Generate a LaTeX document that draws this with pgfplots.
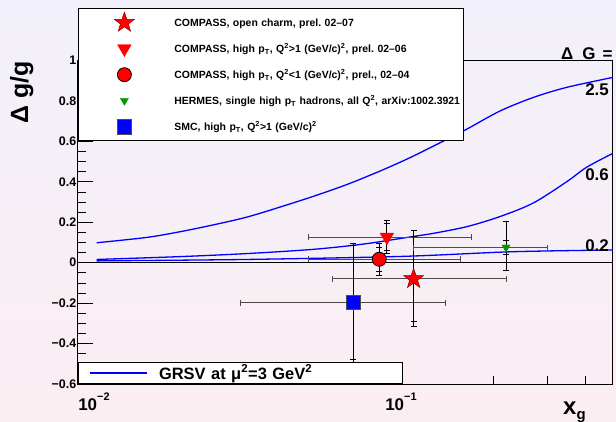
\documentclass[border=0pt]{standalone}
\usepackage{pgfplots}
\pgfplotsset{compat=1.18}
\usepackage{fontspec}
\setmainfont{Liberation Sans}
\usetikzlibrary{plotmarks}
\frenchspacing
\definecolor{bgtop}{RGB}{242,240,250}
\definecolor{bgbot}{RGB}{251,238,243}
\definecolor{rootgreen}{RGB}{0,155,0}
\pgfdeclareplotmark{fstar}{%
  \pgfpathmoveto{\pgfpointpolar{90}{\pgfplotmarksize}}%
  \pgfpathlineto{\pgfpointpolar{126}{0.4\pgfplotmarksize}}%
  \pgfpathlineto{\pgfpointpolar{162}{\pgfplotmarksize}}%
  \pgfpathlineto{\pgfpointpolar{198}{0.4\pgfplotmarksize}}%
  \pgfpathlineto{\pgfpointpolar{234}{\pgfplotmarksize}}%
  \pgfpathlineto{\pgfpointpolar{270}{0.4\pgfplotmarksize}}%
  \pgfpathlineto{\pgfpointpolar{306}{\pgfplotmarksize}}%
  \pgfpathlineto{\pgfpointpolar{342}{0.4\pgfplotmarksize}}%
  \pgfpathlineto{\pgfpointpolar{18}{\pgfplotmarksize}}%
  \pgfpathlineto{\pgfpointpolar{54}{0.4\pgfplotmarksize}}%
  \pgfpathclose
  \pgfusepathqfillstroke
}
\pgfplotsset{
  hbar/.style={forget plot, only marks, mark=none,
    error bars/.cd, x dir=both, x explicit, error mark=none,
    error bar style={black!70, line width=0.9bp}},
  vbar/.style={forget plot, only marks, mark=none,
    error bars/.cd, y dir=both, y explicit, error mark=none,
    error bar style={black, line width=0.9bp}},
}
\begin{document}
\begin{tikzpicture}[x=1bp,y=1bp]
\useasboundingbox (0,0) rectangle (616,421);
\shade[top color=bgtop, bottom color=bgbot] (0,0) rectangle (616,421);
\begin{axis}[
  at={(78bp,37bp)}, anchor=south west,
  scale only axis, width=534.5bp, height=323.5bp,
  xmode=log, xmin=0.00887, xmax=0.489, ymin=-0.6, ymax=1.0,
  axis line style={line width=1bp},
  tick align=inside, tick pos=left,
  major tick length=15bp, minor tick length=8bp,
  tick style={black, line width=0.8bp},
  xtick={0.01,0.1},
  xticklabels={{10\raisebox{10bp}{\fontsize{11}{11}\selectfont −2}},{10\raisebox{10bp}{\fontsize{11}{11}\selectfont −1}}},
  minor xtick={0.02,0.03,0.04,0.05,0.06,0.07,0.08,0.09,0.2,0.3,0.4},
  ytick={-0.6,-0.4,-0.2,0,0.2,0.4,0.6,0.8,1},
  yticklabels={−0.6,−0.4,−0.2,0,0.2,0.4,0.6,0.8,1},
  minor y tick num=3,
  xticklabel style={anchor=base, yshift=-26bp, inner sep=0pt, font=\fontsize{17}{17}\selectfont\bfseries},
  yticklabel style={anchor=east, inner sep=0pt, xshift=-1.5bp, font=\fontsize{12.5}{14}\selectfont\bfseries},
  legend style={at={(0,1.1614)}, anchor=north west, draw=black, line width=0.8bp, fill=white,
    inner xsep=0pt, inner ysep=10bp, row sep=18bp, column sep=4bp,
    nodes={inner sep=0pt, text height=8bp, text depth=0pt, text width=289bp,
      font=\fontsize{10.5}{12}\selectfont\bfseries}},
  legend cell align=left,
  legend image code/.code={\path[draw=none, fill=none] (0bp,-4bp) rectangle (92bp,4bp);
    \draw[#1, overlay, mark repeat=2, mark phase=2] plot coordinates {(0bp,0bp) (46bp,0bp) (92bp,0bp)};},
]
% zero line
\addplot[black, line width=1.2bp, forget plot] coordinates {(0.00887,0) (0.489,0)};
% GRSV curves, Delta G = 2.5, 0.6, 0.2
\addplot[blue, line width=1.3bp, smooth, forget plot] coordinates {
(0.0102,0.0985) (0.01486,0.125) (0.01905,0.153) (0.02448,0.187) (0.03141,0.225)
(0.04036,0.275) (0.05179,0.328) (0.06652,0.386) (0.08544,0.453) (0.1069,0.519)
(0.1374,0.601) (0.1637,0.66) (0.2101,0.750) (0.2697,0.817) (0.3465,0.867) (0.489,0.916)};
\addplot[blue, line width=1.3bp, smooth, forget plot] coordinates {
(0.0102,0.016) (0.01905,0.030) (0.03141,0.045) (0.05179,0.066) (0.0754,0.092)
(0.1069,0.127) (0.1273,0.145) (0.1637,0.178) (0.2101,0.228) (0.2697,0.295)
(0.3465,0.400) (0.4027,0.472) (0.489,0.540)};
\addplot[blue, line width=1.3bp, smooth, forget plot] coordinates {
(0.0102,0.009) (0.0314,0.016) (0.1,0.031) (0.21,0.052) (0.3,0.058) (0.489,0.063)};
% horizontal error bars
\addplot[hbar] coordinates {(0.11,-0.08) += (0.11,0) -= (0.05,0)};
\addplot[hbar] coordinates {(0.09,0.127) += (0.08,0) -= (0.04,0)};
\addplot[hbar] coordinates {(0.085,0.017) += (0.071,0) -= (0.035,0)};
\addplot[hbar] coordinates {(0.22,0.074) += (0.08,0) -= (0.11,0)};
\addplot[hbar] coordinates {(0.07,-0.197) += (0.07,0) -= (0.04,0)};
\addplot[forget plot, only marks, mark=|, mark size=3bp, mark options={black!70, line width=0.9bp}] coordinates {
(0.06,-0.08) (0.22,-0.08) (0.05,0.127) (0.17,0.127) (0.05,0.017) (0.156,0.017)
(0.11,0.074) (0.30,0.074) (0.03,-0.197) (0.14,-0.197)};
% vertical error bars: total and statistical
\addplot[vbar] coordinates {(0.11,-0.08) += (0,0.237) -= (0,0.237)};
\addplot[vbar] coordinates {(0.09,0.127) += (0,0.082) -= (0,0.082)};
\addplot[vbar] coordinates {(0.085,0.017) += (0,0.079) -= (0,0.079)};
\addplot[vbar] coordinates {(0.22,0.074) += (0,0.13) -= (0,0.111)};
\addplot[vbar] coordinates {(0.07,-0.197) += (0,0.294) -= (0,0.294)};
\addplot[forget plot, only marks, mark=-, mark size=3bp, mark options={black, line width=0.9bp}] coordinates {
(0.11,0.157) (0.11,-0.317) (0.11,0.13) (0.11,-0.29)
(0.09,0.209) (0.09,0.045) (0.09,0.192) (0.09,0.062)
(0.085,0.096) (0.085,-0.062) (0.085,0.077) (0.085,-0.043)
(0.22,0.204) (0.22,-0.037) (0.22,0.108) (0.22,0.040)
(0.07,0.097) (0.07,-0.491) (0.07,0.083) (0.07,-0.477)};
% markers
\addplot[only marks, mark=fstar, mark size=10.5bp, mark options={fill=red, draw=red!55!black, line width=0.5bp}] coordinates {(0.11,-0.08)};
\addlegendentry{COMPASS, open charm, prel. 02–07}
\addplot[only marks, mark=triangle*, mark size=8bp, mark options={rotate=180, fill=red, draw=red, line width=0.2bp}] coordinates {(0.09,0.127)};
\addlegendentry{COMPASS, high p\textsubscript{T}, Q\textsuperscript{2}>1 (GeV/c)\textsuperscript{2}, prel. 02–06}
\addplot[only marks, mark=*, mark size=7bp, mark options={fill=red, draw=black, line width=0.8bp}] coordinates {(0.085,0.017)};
\addlegendentry{COMPASS, high p\textsubscript{T}, Q\textsuperscript{2}<1 (GeV/c)\textsuperscript{2}, prel., 02–04}
\addplot[only marks, mark=triangle*, mark size=4.8bp, mark options={rotate=180, fill=rootgreen, draw=rootgreen, line width=0.2bp}] coordinates {(0.22,0.076)};
\addlegendentry{HERMES, single high p\textsubscript{T} hadrons, all Q\textsuperscript{2}, arXiv:1002.3921}
\addplot[only marks, mark=square*, mark size=7.3bp, mark options={fill=blue, draw=black!70, line width=0.8bp}] coordinates {(0.07,-0.197)};
\addlegendentry{SMC, high p\textsubscript{T}, Q\textsuperscript{2}>1 (GeV/c)\textsuperscript{2}}
\end{axis}
\begin{axis}[
  at={(78bp,37bp)}, anchor=south west,
  scale only axis, width=534.5bp, height=323.5bp,
  hide axis, xmin=0, xmax=1, ymin=0, ymax=1,
  legend style={at={(0,0)}, anchor=south west, draw=black, line width=0.8bp, fill=white,
    inner xsep=0pt, inner ysep=4.5bp, column sep=11bp,
    nodes={inner sep=0pt, text height=12bp, text depth=0pt, text width=243bp,
      font=\fontsize{16.5}{18}\selectfont\bfseries}},
  legend cell align=left,
  legend image code/.code={\path[draw=none, fill=none] (0bp,-4bp) rectangle (69bp,4bp);
    \draw[#1] (12bp,0bp) -- (69bp,0bp);},
]
\addlegendimage{blue, line width=1.3bp}
\addlegendentry{GRSV at μ\textsuperscript{2}=3 GeV\textsuperscript{2}}
\end{axis}
\node[anchor=base west, inner sep=0pt, font=\fontsize{17}{17}\selectfont\bfseries] at (561,362) {Δ\hspace{9bp}G\hspace{7bp}=};
\node[anchor=base east, inner sep=0pt, font=\fontsize{17}{17}\selectfont\bfseries] at (609,325.5) {2.5};
\node[anchor=base east, inner sep=0pt, font=\fontsize{17}{17}\selectfont\bfseries] at (609,240.3) {0.6};
\node[anchor=base east, inner sep=0pt, font=\fontsize{17}{17}\selectfont\bfseries] at (609,169.3) {0.2};
\node[rotate=90, anchor=base, inner sep=0pt, font=\fontsize{25}{25}\selectfont\bfseries] at (28,328.5) {Δ g/g};
\node[anchor=base west, inner sep=0pt, font=\fontsize{24}{24}\selectfont\bfseries] at (563,7) {x\raisebox{-5bp}{\fontsize{15}{15}\selectfont g}};
\end{tikzpicture}
\end{document}
